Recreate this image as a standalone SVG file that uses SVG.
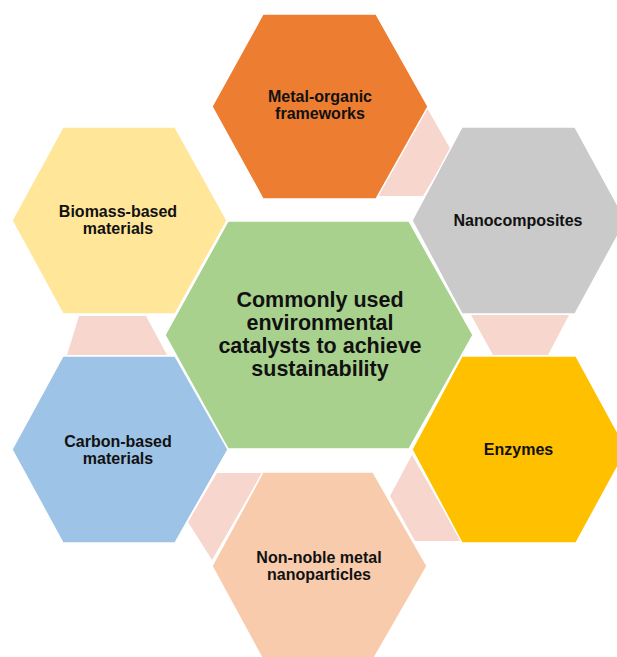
<svg xmlns="http://www.w3.org/2000/svg" width="617" height="657" viewBox="0 0 617 657">
  <style>
    .hex { stroke: #ffffff; stroke-width: 1.5; stroke-linejoin: miter; }
    .link { fill: #F7D6CD; stroke: none; }
    .lbl { font-family: "Liberation Sans", Arial, Helvetica, sans-serif; font-weight: bold; font-size: 16px; fill: #111111; text-anchor: middle; }
    .title { font-size: 21.5px; }
  </style>
  <rect x="0" y="0" width="617" height="657" fill="#ffffff"/>

  <!-- connector bands between neighbouring hexagons -->
  <g id="connectors">
    <polygon class="link" points="427,108 451,150 423,196 377,196"/>
    <polygon class="link" points="79,316 146,316 167,355 67,355"/>
    <polygon class="link" points="471,315 569,315 548,355 493,355"/>
    <polygon class="link" points="412,455 390,496 415,541 461,541"/>
    <polygon class="link" points="217,473 262,473 212,560 188,522"/>
  </g>

  <g id="metal-organic-frameworks">
    <polygon class="hex" fill="#ED7D31" points="263,14 376,14 428,106.5 376,199 263,199 212,106.5"/>
    <text class="lbl" x="320" y="101.5">Metal-organic</text>
    <text class="lbl" x="320" y="118.5">frameworks</text>
  </g>

  <g id="biomass-based-materials">
    <polygon class="hex" fill="#FFE699" points="63,127 175,127 227,220.5 175,314 63,314 12,220.5"/>
    <text class="lbl" x="118" y="216.5">Biomass-based</text>
    <text class="lbl" x="118" y="233.5">materials</text>
  </g>

  <g id="nanocomposites">
    <polygon class="hex" fill="#CACACA" points="462,127 575,127 626,220.5 575,314 462,314 412,220.5"/>
    <text class="lbl" x="518" y="226">Nanocomposites</text>
  </g>

  <g id="environmental-catalysts">
    <polygon class="hex" fill="#A9D18E" points="228,221 409,221 473,335 409,449 228,449 165,335"/>
    <text class="lbl title" x="320" y="306.5">Commonly used</text>
    <text class="lbl title" x="320" y="329.5">environmental</text>
    <text class="lbl title" x="320" y="352.5">catalysts to achieve</text>
    <text class="lbl title" x="320" y="375.5">sustainability</text>
  </g>

  <g id="carbon-based-materials">
    <polygon class="hex" fill="#9DC3E6" points="63,356 175,356 228,449.5 175,543 63,543 12,449.5"/>
    <text class="lbl" x="118" y="446.5">Carbon-based</text>
    <text class="lbl" x="118" y="463.5">materials</text>
  </g>

  <g id="enzymes">
    <polygon class="hex" fill="#FFC000" points="462,356 576,356 627,449.5 576,543 462,543 412,449.5"/>
    <text class="lbl" x="518.5" y="455">Enzymes</text>
  </g>

  <g id="non-noble-metal-nanoparticles">
    <polygon class="hex" fill="#F8CBAD" points="263,472 373,472 427,566 373,660 263,660 212,566"/>
    <text class="lbl" x="319" y="562.5">Non-noble metal</text>
    <text class="lbl" x="319" y="579.5">nanoparticles</text>
  </g>
</svg>
